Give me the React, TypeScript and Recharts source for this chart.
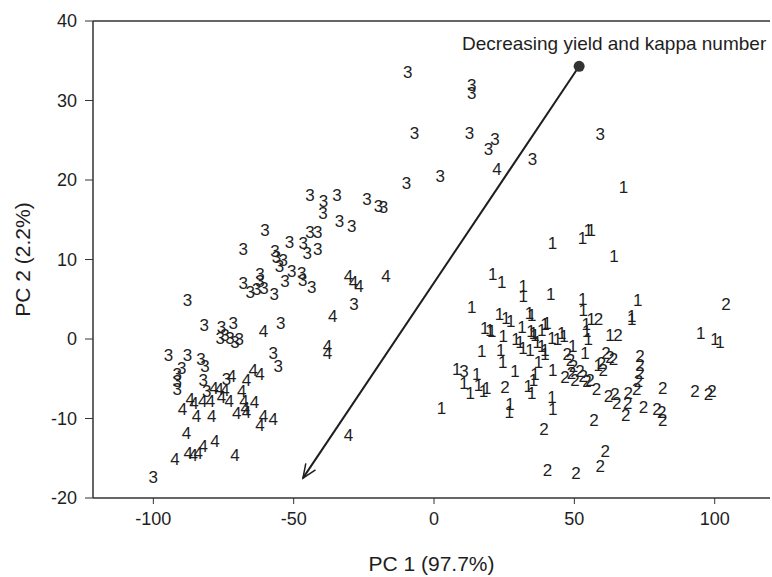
import React from 'react';
import { ScatterChart, Scatter, XAxis, YAxis, ReferenceLine } from 'recharts';

const xTicks = [-100, -50, 0, 50, 100];
const yTicks = [-20, -10, 0, 10, 20, 30, 40];

// samples labelled by class (PC1, PC2)
const class1: [number, number][] = [
  [67.5, 19.0], [42.2, 12.0], [52.9, 12.6], [54.9, 13.6], [56.0, 13.7], [64.1, 10.4],
  [20.9, 8.1], [24.1, 7.1], [31.8, 6.6], [31.8, 5.3], [41.6, 5.6], [53.0, 5.0], [53.2, 3.6],
  [72.6, 4.9], [70.4, 2.8], [70.4, 2.4], [13.4, 3.9], [23.3, 3.1], [25.6, 2.6], [27.3, 2.2],
  [34.0, 3.2], [34.8, 3.0], [18.1, 1.3], [19.9, 1.1], [20.6, 0.9], [24.7, 0.3], [31.3, 1.5],
  [34.5, 0.9], [35.4, 0.7], [36.0, 0.5], [38.4, 1.1], [39.5, 1.8], [40.2, 2.0],
  [29.2, -0.1], [30.6, -0.5], [31.7, -1.2], [34.2, -1.4], [36.8, -0.5], [38.4, -1.0], [39.5, -1.4],
  [42.0, 0.1], [44.0, -0.1], [45.5, 0.7], [46.3, 0.3], [17.0, -1.6], [23.8, -1.4], [24.5, -2.9],
  [37.2, -2.9], [39.5, -2.0], [49.4, -1.0], [53.8, -1.8], [54.2, 1.8], [54.4, 0.9], [54.9, -0.1],
  [56.0, 2.4], [62.7, 0.5], [58.5, -3.3], [28.8, -4.1], [36.0, -4.5], [35.4, -5.2], [42.3, -4.0],
  [17.6, -6.6], [18.8, -6.2], [33.6, -6.0], [34.8, -6.8], [42.0, -7.3], [95.0, 0.7], [100.1, -0.1],
  [101.9, -0.5], [2.7, -8.7], [8.1, -3.8], [10.7, -5.6], [12.9, -6.8], [15.2, -4.5], [15.8, -5.8],
  [27.1, -8.3], [26.8, -9.3], [42.3, -8.9],
];

const class2: [number, number][] = [
  [58.6, 2.4], [65.5, 0.5], [104.0, 4.4], [47.5, -1.9], [48.6, -2.7], [49.7, -3.4],
  [61.3, -1.8], [62.7, -2.3], [63.9, -2.6], [59.7, -3.1], [60.3, -3.9],
  [73.4, -2.2], [73.4, -3.3], [73.4, -4.3], [72.8, -5.4], [72.2, -6.4],
  [46.7, -4.9], [49.0, -4.3], [50.2, -5.2], [52.0, -4.1], [53.2, -4.7], [54.5, -5.4], [55.6, -5.2],
  [57.9, -6.4], [25.3, -6.1], [62.2, -7.2], [64.5, -7.0], [65.1, -8.1], [69.2, -6.9], [69.0, -8.1],
  [68.3, -9.6], [74.6, -8.6], [81.5, -6.2], [79.4, -8.9], [81.1, -9.3], [81.5, -10.2],
  [93.0, -6.6], [97.8, -7.0], [99.0, -6.6], [39.2, -11.4], [57.0, -10.2], [61.0, -14.2],
  [59.2, -16.0], [40.4, -16.5], [50.6, -16.9],
];

const class3: [number, number][] = [
  [-9.4, 33.5], [13.4, 31.9], [13.4, 30.9], [-7.0, 25.9], [12.6, 25.9], [21.7, 25.1], [19.4, 23.8],
  [35.1, 22.6], [59.2, 25.7], [2.2, 20.4], [-9.8, 19.6], [-44.2, 18.0], [-34.6, 18.1],
  [-39.4, 17.3], [-39.6, 15.8], [-23.9, 17.5], [-19.8, 16.7], [-18.0, 16.6], [-33.7, 14.8],
  [-29.3, 14.2], [-60.2, 13.7], [-44.2, 13.4], [-41.4, 13.4], [-51.5, 12.2], [-46.6, 12.0],
  [-45.2, 10.7], [-41.4, 11.3], [-68.0, 11.2], [-56.7, 11.0], [-56.1, 10.3], [-53.7, 9.9],
  [-55.1, 9.1], [-50.7, 8.5], [-47.1, 8.3], [-46.8, 7.4], [-43.6, 6.5], [-53.1, 7.2], [-68.0, 7.0],
  [-65.5, 5.9], [-63.2, 6.2], [-62.0, 8.1], [-62.0, 7.2], [-60.6, 6.4], [-56.9, 5.6], [-87.8, 4.9],
  [-28.5, 4.3], [-54.6, 2.0], [-81.9, 1.7], [-75.7, 1.5], [-71.5, 2.0], [-76.2, 0.1], [-74.5, 0.5],
  [-72.7, 0.1], [-70.9, -0.5], [-69.4, -0.1], [-94.6, -2.1], [-87.8, -2.1], [-83.0, -2.6],
  [-81.6, -3.5], [-89.9, -3.7], [-91.5, -4.5], [-91.5, -5.4], [-91.5, -6.3], [-57.3, -1.8],
  [-55.5, -3.5], [-82.2, -5.2], [-73.9, -5.1], [-81.0, -6.6], [-100.0, -17.4], [10.7, -4.1],
];

const class4: [number, number][] = [
  [22.4, 21.3], [-30.5, 7.8], [-28.7, 7.1], [-26.7, 6.6], [-17.1, 7.8], [-36.1, 2.8], [-60.8, 1.0],
  [-38.0, -1.0], [-38.0, -1.8], [-30.5, -12.2], [-64.4, -3.9], [-62.0, -4.5], [-66.8, -5.2],
  [-72.1, -4.7], [-78.4, -6.2], [-76.5, -6.4], [-74.5, -6.5], [-75.7, -7.3], [-73.0, -7.8],
  [-79.6, -7.8], [-82.4, -7.8], [-86.9, -7.6], [-85.5, -8.1], [-89.6, -8.9], [-84.6, -9.8],
  [-79.2, -9.7], [-68.5, -6.6], [-67.7, -7.9], [-67.3, -8.8], [-66.8, -9.3], [-70.3, -9.4],
  [-64.0, -8.0], [-60.8, -9.8], [-62.0, -10.9], [-57.3, -10.1], [-88.2, -11.9], [-78.0, -12.9],
  [-82.2, -13.5], [-84.0, -14.4], [-85.8, -14.6], [-87.6, -14.4], [-92.3, -15.2], [-70.9, -14.6],
];

const arrowStart = { x: 51.7, y: 34.3 };
const arrowEnd = { x: -46.7, y: -17.5 };
const arrowLabel = 'Decreasing yield and kappa number';

const FONT = '"Liberation Sans", Arial, Helvetica, sans-serif';
const INK = '#1e1e1e';

const toPoints = (pairs: [number, number][]) => pairs.map(([x, y]) => ({ x, y }));

const digitShape = (label: string) => (props: any) => (
  <text
    x={props.cx}
    y={props.cy}
    textAnchor="middle"
    dominantBaseline="central"
    fontSize={17}
    fontFamily={FONT}
    fill={INK}
  >
    {label}
  </text>
);

const ArrowShape = (props: any) => {
  const { x1, y1, x2, y2 } = props;
  const ang = Math.atan2(y2 - y1, x2 - x1);
  const len = 15;
  const spread = 0.4;
  const hx1 = x2 + len * Math.cos(ang + Math.PI - spread);
  const hy1 = y2 + len * Math.sin(ang + Math.PI - spread);
  const hx2 = x2 + len * Math.cos(ang + Math.PI + spread);
  const hy2 = y2 + len * Math.sin(ang + Math.PI + spread);
  return (
    <g>
      <line x1={x1} y1={y1} x2={x2} y2={y2} stroke={INK} strokeWidth={2} />
      <polyline points={`${hx1},${hy1} ${x2},${y2} ${hx2},${hy2}`} fill="none" stroke={INK} strokeWidth={1.5} />
      <circle cx={x1} cy={y1} r={5.5} fill="#333" />
      <text x={x1 + 35} y={y1 - 23} textAnchor="middle" dominantBaseline="central" fontSize={19} fontFamily={FONT} fill={INK}>
        {arrowLabel}
      </text>
    </g>
  );
};

const XTitle = ({ viewBox }: any) => (
  <text x={viewBox.x + viewBox.width / 2} y={563} textAnchor="middle" dominantBaseline="central" fontSize={21} fontFamily={FONT} fill={INK}>
    PC 1 (97.7%)
  </text>
);

const YTitle = ({ viewBox }: any) => {
  const cy = viewBox.y + viewBox.height / 2;
  return (
    <text x={22} y={cy} transform={`rotate(-90, 22, ${cy})`} textAnchor="middle" dominantBaseline="central" fontSize={21} fontFamily={FONT} fill={INK}>
      PC 2 (2.2%)
    </text>
  );
};

export default function App() {
  const tick = { fill: INK, fontSize: 18, fontFamily: FONT };
  const axisLine = { stroke: '#333', strokeWidth: 1.5 };
  return (
    <div style={{ position: 'absolute', left: 0, top: 0, background: '#fff' }}>
      <ScatterChart width={772} height={577} margin={{ top: 21, right: 2, bottom: 0, left: 0 }}>
        <XAxis
          type="number"
          dataKey="x"
          domain={[-121.5, 119.7]}
          ticks={xTicks}
          allowDataOverflow
          height={79}
          tick={tick}
          tickSize={6}
          tickMargin={8}
          axisLine={axisLine}
          tickLine={{ stroke: '#333' }}
          label={{ content: XTitle }}
        />
        <YAxis
          type="number"
          dataKey="y"
          domain={[-20, 40]}
          ticks={yTicks}
          allowDataOverflow
          width={93}
          tick={tick}
          tickSize={8}
          tickMargin={8}
          axisLine={axisLine}
          tickLine={{ stroke: '#333' }}
          label={{ content: YTitle }}
        />
        <ReferenceLine y={40} stroke="#333" strokeWidth={1.5} />
        <ReferenceLine segment={[arrowStart, arrowEnd]} shape={ArrowShape} />
        <Scatter data={toPoints(class3)} shape={digitShape('3')} isAnimationActive={false} />
        <Scatter data={toPoints(class4)} shape={digitShape('4')} isAnimationActive={false} />
        <Scatter data={toPoints(class1)} shape={digitShape('1')} isAnimationActive={false} />
        <Scatter data={toPoints(class2)} shape={digitShape('2')} isAnimationActive={false} />
      </ScatterChart>
    </div>
  );
}
